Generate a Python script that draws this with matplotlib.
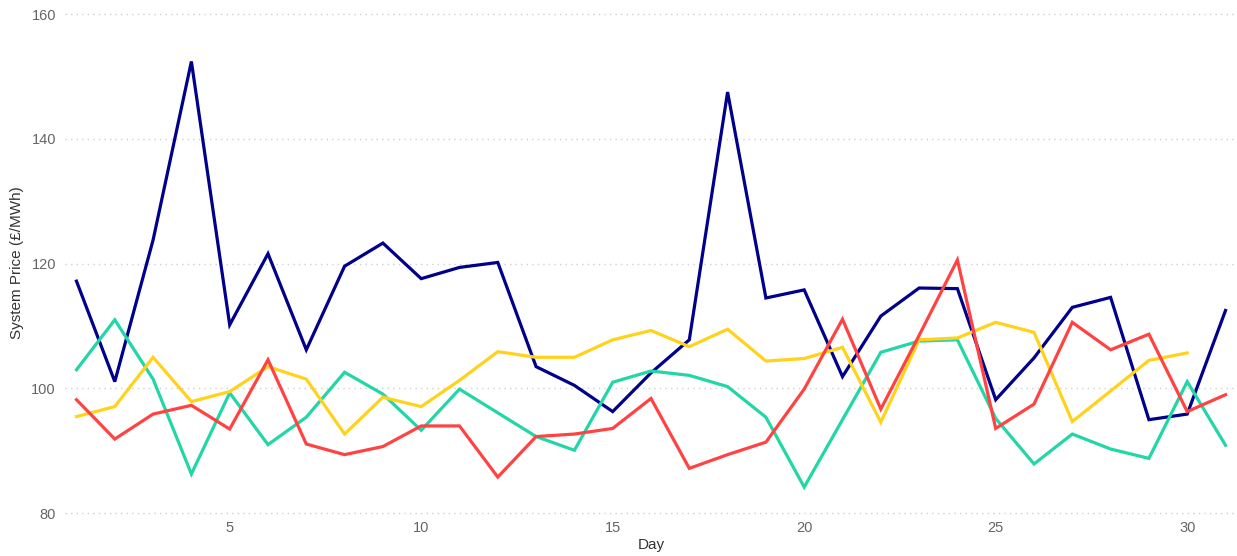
import matplotlib
matplotlib.use("Agg")
import matplotlib.pyplot as plt

days = list(range(1, 32))

series_blue = [117.2, 101.1, 123.8, 152.4, 110.2, 121.6, 106.2, 119.6, 123.3, 117.6,
               119.4, 120.2, 103.5, 100.5, 96.3, 102.5, 107.8, 147.5, 114.5, 115.8,
               101.9, 111.6, 116.1, 116.0, 98.2, 104.9, 113.0, 114.6, 95.0, 95.9, 112.5]
series_teal = [103.0, 111.0, 101.5, 86.3, 99.3, 91.0, 95.4, 102.6, 99.1, 93.3,
               99.9, 96.1, 92.3, 90.1, 101.0, 102.8, 102.1, 100.3, 95.4, 84.2,
               95.0, 105.8, 107.6, 107.8, 95.2, 87.9, 92.7, 90.3, 88.8, 101.1, 90.9]
series_yellow = [95.5, 97.1, 105.0, 97.9, 99.5, 103.5, 101.5, 92.7, 98.6, 97.1,
                 101.3, 105.9, 105.0, 105.0, 107.8, 109.3, 106.7, 109.5, 104.4, 104.8,
                 106.6, 94.6, 107.8, 108.1, 110.6, 109.0, 94.7, 99.6, 104.5, 105.7]
series_red = [98.2, 91.9, 95.9, 97.3, 93.5, 104.6, 91.1, 89.4, 90.7, 94.0,
              94.0, 85.8, 92.3, 92.7, 93.6, 98.4, 87.2, 89.4, 91.4, 99.9,
              111.1, 96.7, 108.5, 120.6, 93.6, 97.5, 110.6, 106.2, 108.7, 96.3, 99.0]

x_ticks = [5, 10, 15, 20, 25, 30]
y_ticks = [80, 100, 120, 140, 160]

plt.rcParams['font.family'] = ['Liberation Sans', 'DejaVu Sans']

fig = plt.figure(figsize=(12.37, 5.56), dpi=100)
ax = fig.add_axes([65 / 1237, (556 - 515.8) / 556, (1237 - 65) / 1237, 505.5 / 556])

lw = 2.3
ax.plot(days, series_blue, color="#00008B", lw=lw, solid_joinstyle="miter")
ax.plot(days, series_teal, color="#22D6A6", lw=lw, solid_joinstyle="miter")
ax.plot(days[:len(series_yellow)], series_yellow, color="#FFD21C", lw=lw, solid_joinstyle="miter")
ax.plot(days, series_red, color="#FF4343", lw=lw, solid_joinstyle="miter")

ax.set_xlim(0.7, 31.3)
ax.set_ylim(79.6, 160.6)
ax.set_xticks(x_ticks)
ax.set_yticks(y_ticks)
for s in ax.spines.values():
    s.set_visible(False)
ax.grid(axis="y", color="#d0d0d0", linestyle=(0, (1, 3)), linewidth=1.0)
ax.grid(axis="x", visible=False)
ax.set_axisbelow(True)
ax.tick_params(axis="both", length=0, labelsize=10.5, labelcolor="#666666")
ax.tick_params(axis="x", pad=3.5)
ax.tick_params(axis="y", pad=6.5)
ax.set_xlabel("Day", fontsize=11, color="#333333", labelpad=2.5)
ax.set_ylabel("System Price (£/MWh)", fontsize=11, color="#333333", labelpad=5)

fig.savefig("out.png", dpi=100)
